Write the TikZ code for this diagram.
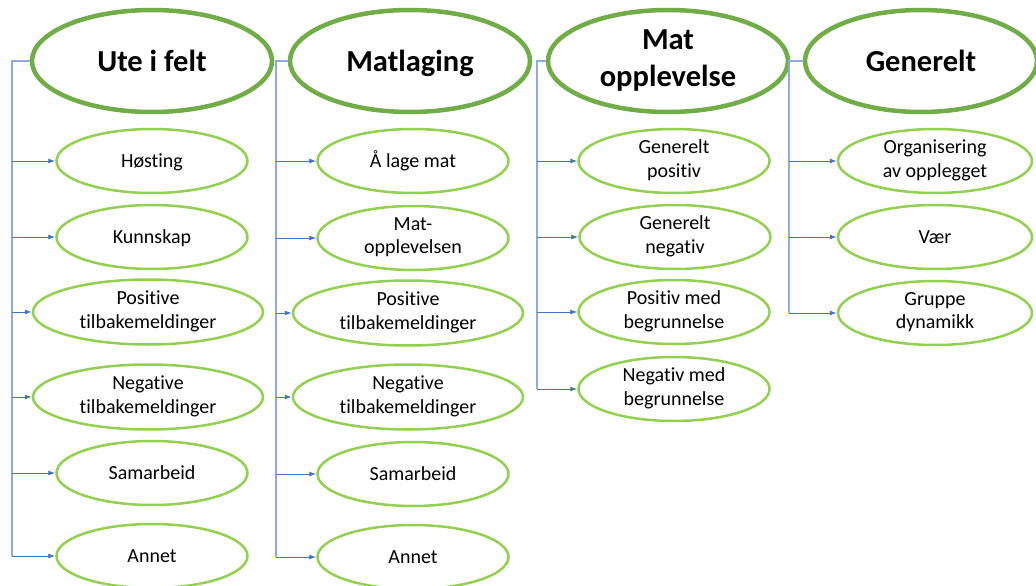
\documentclass[tikz,border=0pt]{standalone}
\usepackage{fontspec}
\setmainfont{Carlito}[Ligatures=NoCommon]
\usetikzlibrary{shapes.geometric,arrows.meta}
\definecolor{bigG}{RGB}{112,173,71}
\definecolor{smallG}{RGB}{146,208,80}
\definecolor{busB}{RGB}{143,170,220}
\definecolor{arrB}{RGB}{68,114,196}
\newcommand\mystrut{\rule[-0.23em]{0pt}{1.1em}}
\newcommand\bigstrut{\rule[-0.2em]{0pt}{1.12em}}
\tikzset{
  bigE/.style={ellipse, draw=bigG, line width=4.5pt, inner sep=0pt, minimum width=240pt, minimum height=102pt, align=center, font=\fontsize{30.5}{37}\selectfont\bfseries, text=black, execute at begin node=\bigstrut, execute at end node=\bigstrut},
  smallE/.style={ellipse, draw=smallG, line width=2.5pt, inner sep=0pt, minimum width=191pt, minimum height=64pt, align=center, font=\fontsize{20}{23.5}\selectfont, text=black, execute at begin node=\mystrut, execute at end node=\mystrut},
  wideE/.style={smallE, minimum width=230pt, minimum height=65pt},
  bus/.style={draw=busB, line width=1.3pt},
  arr/.style={draw=arrB, line width=0.9pt, -{Latex[length=7pt,width=5pt]}}
}
\begin{document}
\begin{tikzpicture}[x=1pt,y=-1pt]
\useasboundingbox (0,0) rectangle (1036,586);
% headers
\node[bigE] (u0) at (152,61) {Ute i felt};
\node[bigE] (m0) at (410,61) {Matlaging};
\node[bigE] (o0) at (668,61) {Mat\\opplevelse};
\node[bigE, minimum width=232pt] (g0) at (921,61) {Generelt};
% column 1
\node[smallE] (u1) at (152,161) {Høsting};
\node[smallE] (u2) at (152,237) {Kunnskap};
\node[wideE]  (u3) at (148,312) {Positive\\tilbakemeldinger};
\node[wideE]  (u4) at (148,397) {Negative\\tilbakemeldinger};
\node[smallE] (u5) at (152,473) {Samarbeid};
\node[smallE] (u6) at (152,556) {Annet};
% column 2
\node[smallE] (m1) at (413,161) {Å lage mat};
\node[smallE] (m2) at (413,238) {Mat-\\opplevelsen};
\node[wideE]  (m3) at (408,313) {Positive\\tilbakemeldinger};
\node[wideE]  (m4) at (408,397) {Negative\\tilbakemeldinger};
\node[smallE] (m5) at (413,474) {Samarbeid};
\node[smallE] (m6) at (413,557) {Annet};
% column 3
\node[smallE] (o1) at (674,161) {Generelt\\positiv};
\node[smallE] (o2) at (675,237) {Generelt\\negativ};
\node[smallE] (o3) at (674,312) {Positiv med\\begrunnelse};
\node[smallE] (o4) at (674,389) {Negativ med\\begrunnelse};
% column 4
\node[smallE, minimum width=194pt] (g1) at (935,161) {Organisering\\av opplegget};
\node[smallE, minimum width=194pt] (g2) at (935,237) {Vær};
\node[smallE, minimum width=194pt] (g3) at (935,313) {Gruppe\\dynamikk};
% bus coordinates (x positions of the vertical lines)
\coordinate (bu) at (12,0);
\coordinate (bm) at (276,0);
\coordinate (bo) at (537,0);
\coordinate (bg) at (789,0);
% buses
\draw[bus] (u0.west) -| (bu |- u6.west);
\draw[bus] (m0.west) -| (bm |- m6.west);
\draw[bus] (o0.west) -| (bo |- o4.west);
\draw[bus] (g0.west) -| (bg |- g3.west);
% arrows
\foreach \i in {1,...,6} {\draw[arr] (bu |- u\i.west) -- (u\i.west);}
\foreach \i in {1,...,6} {\draw[arr] (bm |- m\i.west) -- (m\i.west);}
\foreach \i in {1,...,4} {\draw[arr] (bo |- o\i.west) -- (o\i.west);}
\foreach \i in {1,...,3} {\draw[arr] (bg |- g\i.west) -- (g\i.west);}
\end{tikzpicture}
\end{document}
